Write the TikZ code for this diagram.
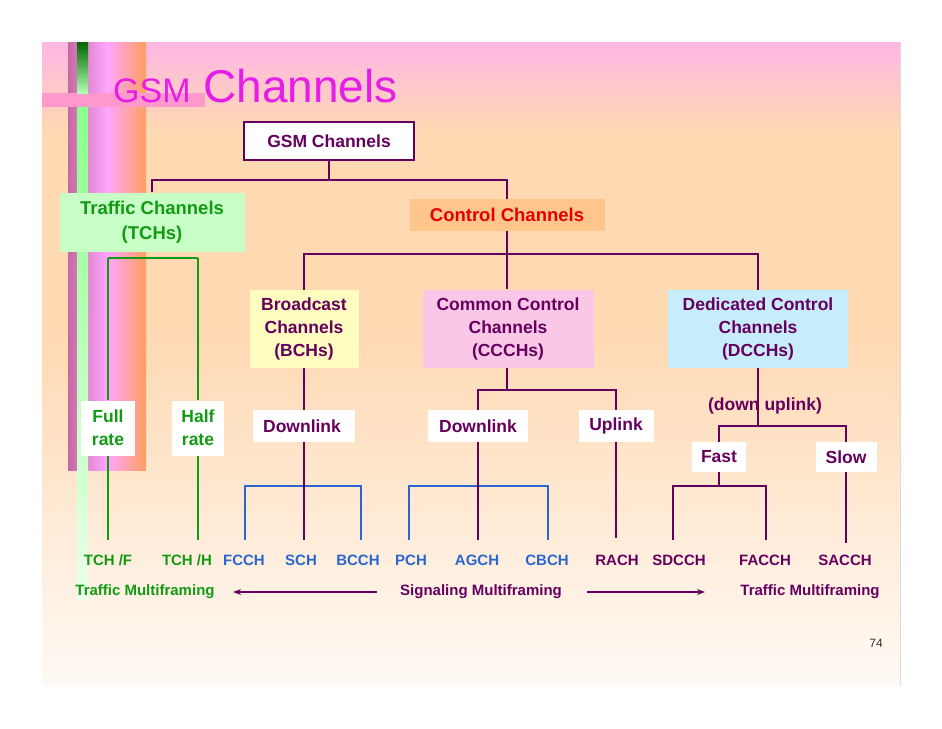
\documentclass[tikz,border=0pt]{standalone}
\usepackage{fontspec}
\setmainfont{Liberation Sans}
\usetikzlibrary{arrows.meta}
\definecolor{pur}{HTML}{66005F}
\definecolor{grn}{HTML}{129A12}
\definecolor{blu}{HTML}{2A66D0}
\definecolor{mag}{HTML}{E81CE8}
\begin{document}
\begin{tikzpicture}[x=1pt,y=-1pt,
  box/.style={font=\bfseries\fontsize{17.5}{23}\selectfont,align=center,inner sep=0pt,text=pur},
  leaf/.style={font=\bfseries\fontsize{15}{16}\selectfont,anchor=center},
  pl/.style={draw=pur,line width=1.8pt},
  gl/.style={draw=grn,line width=1.8pt},
  bl/.style={draw=blu,line width=1.5pt}]
\useasboundingbox (0,0) rectangle (942,728);
\fill[white] (0,0) rectangle (942,728);
% slide background
\shade[top color=pink!70!magenta!60, bottom color=orange!30] (42,42) rectangle (900,130);
\fill[orange!30] (42,130) rectangle (900,330);
\shade[top color=orange!30, bottom color=orange!4] (42,330) rectangle (900,685);
\draw[gray!30] (900,42) -- (900,685);
% decorative strip
\shade[left color=violet!45!pink, right color=orange!50!pink, middle color=magenta!35] (68,42) rectangle (146,470);
\fill[pink!80!magenta] (42,93) rectangle (205,107);
\shade[top color=green!40!black, bottom color=green!30] (77,42) rectangle (88,93);
\shade[top color=green!45, bottom color=green!8] (77,107) rectangle (88,600);
\node[text=mag,anchor=base west,inner sep=0pt,font=\fontsize{46}{50}\selectfont] (title) at (113,102) {{\fontsize{34}{38}\selectfont GSM} Channels};
% boxes
\node[box,draw=pur,line width=2.5pt,fill=white,minimum width=170,minimum height=38] (gsm) at (329,141) {GSM Channels};
\node[box,fill=green!22,text=grn,minimum width=185,minimum height=59,font=\bfseries\fontsize{18.5}{25}\selectfont] (tch) at (152,222) {Traffic Channels\\(TCHs)};
\node[box,fill=orange!45!white,text=red!90!black,minimum width=195,minimum height=32,font=\bfseries\fontsize{18.5}{22}\selectfont] (ctl) at (507,215) {Control Channels};
\node[box,fill=yellow!25,minimum width=109,minimum height=78] (bch) at (304,329) {Broadcast\\Channels\\(BCHs)};
\node[box,fill=magenta!22,minimum width=171,minimum height=78] (ccch) at (508,329) {Common Control\\Channels\\(CCCHs)};
\node[box,fill=cyan!22,minimum width=180,minimum height=78] (dcch) at (758,329) {Dedicated Control\\Channels\\(DCCHs)};
\node[box,fill=white,text=grn,minimum width=54,minimum height=55] (full) at (108,428) {Full\\rate};
\node[box,fill=white,text=grn,minimum width=52,minimum height=55] (half) at (198,428) {Half\\rate};
\node[box,fill=white,minimum width=102,minimum height=32] (dl1) at (304,426) {\hspace*{-4pt}Downlink};
\node[box,fill=white,minimum width=100,minimum height=32] (dl2) at (478,426) {Downlink};
\node[box,fill=white,minimum width=75,minimum height=32] (ul) at (616,426) {Uplink};
\node[box,fill=white,minimum width=54,minimum height=30] (fast) at (719,457) {Fast};
\node[box,fill=white,minimum width=61,minimum height=30] (slow) at (846,457) {Slow};
% leaves
\node[leaf,text=grn] (tchf) at (108,560) {TCH /F};
\node[leaf,text=grn] (tchh) at (187,560) {TCH /H};
\node[leaf,text=blu] (fcch) at (244,560) {FCCH};
\node[leaf,text=blu] (sch) at (301,560) {SCH};
\node[leaf,text=blu] (bcch) at (358,560) {BCCH};
\node[leaf,text=blu] (pch) at (411,560) {PCH};
\node[leaf,text=blu] (agch) at (477,560) {AGCH};
\node[leaf,text=blu] (cbch) at (547,560) {CBCH};
\node[leaf,text=pur] (rach) at (617,560) {RACH};
\node[leaf,text=pur] (sdcch) at (679,560) {SDCCH};
\node[leaf,text=pur] (facch) at (765,560) {FACCH};
\node[leaf,text=pur] (sacch) at (845,560) {SACCH};
\node[leaf,text=grn] (tm1) at (145,592) {Traffic Multiframing};
\node[leaf,text=pur] (sm) at (481,592) {Signaling Multiframing};
\node[leaf,text=pur] (tm2) at (810,592) {Traffic Multiframing};
\node[font=\fontsize{12}{13}\selectfont,text=black!80] (pg) at (876,643) {74};
% connectors
\draw[pl] (gsm.south) -- ++(0,19) -| (tch.north);
\draw[pl] (gsm.south) ++(0,19) -| (ctl.north);
\draw[pl] (ctl.south) -- ++(0,23) -| (bch.north);
\draw[pl] (ctl.south) ++(0,23) -| (dcch.north);
\draw[pl] (ctl.south) -- ++(0,58);
\draw[gl] (tch.south) ++(-44,6) coordinate (g1) -- ++(90,0) coordinate (g2);
\draw[gl] (g1) -- (full.north); \draw[gl] (full.south) -- (108,540);
\draw[gl] (g2) -- (half.north); \draw[gl] (half.south) -- (198,540);
\draw[bl] (245,540) -- (245,486) -- (361,486) -- (361,540);
\draw[bl] (409,540) -- (409,486) -- (548,486) -- (548,540);
\draw[pl] (bch.south) -- (dl1.north); \draw[pl] (dl1.south) -- (304,540);
\draw[pl] (ccch.south) ++(-1,0) -- ++(0,22) coordinate (c1);
\draw[pl] (c1) -| (dl2.north);
\draw[pl] (c1) -| (ul.north);
\draw[pl] (dl2.south) -- (478,540);
\draw[pl] (ul.south) -- (616,538);
\node[box,anchor=center] (du) at (765,406) {(down uplink)};
\draw[pl] (dcch.south) -- (758,426) coordinate (d1);
\draw[pl] (d1) -| (fast.north); \draw[pl] (d1) -| (slow.north);
\draw[pl] (fast.south) -- (719,486) coordinate (f1);
\draw[pl] (673,540) -- (673,486) -- (766,486) -- (766,540);
\draw[pl] (slow.south) -- (846,543);
\draw[pur,line width=2pt,-{Stealth[length=8pt]}] (377,592) -- (233,592);
\draw[pur,line width=2pt,-{Stealth[length=8pt]}] (587,592) -- (705,592);
\end{tikzpicture}
\end{document}
